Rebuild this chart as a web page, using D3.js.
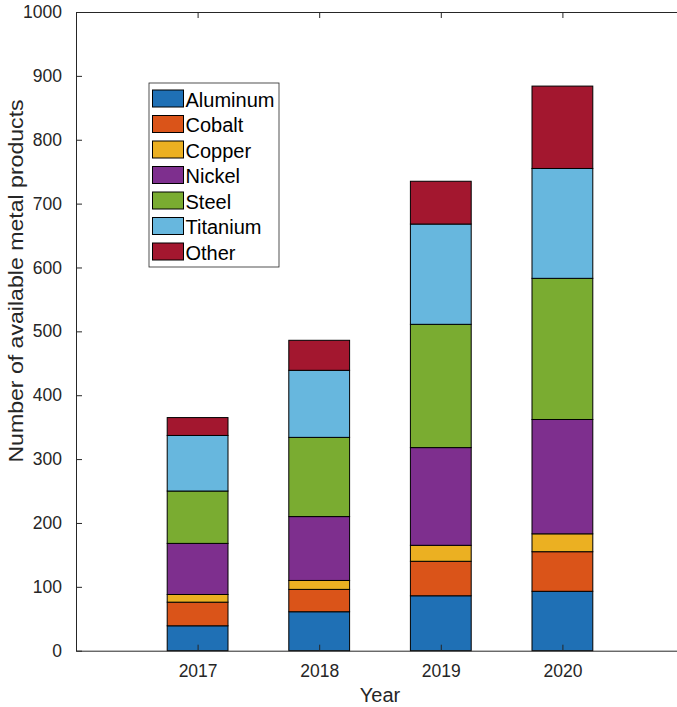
<!DOCTYPE html>
<html>
<head>
<meta charset="utf-8">
<script src="https://cdn.jsdelivr.net/npm/d3@7/dist/d3.min.js"></script>
<style>
  html, body { margin: 0; padding: 0; background: #fff; }
  svg { display: block; font-family: "Liberation Sans", Arial, Helvetica, sans-serif; }
</style>
</head>
<body>
<svg id="chart" width="677" height="707"></svg>
<script>
// Years on the horizontal axis
const years = [2017, 2018, 2019, 2020];

// Metal product counts per year, one array per metal
const aluminum = [39, 61, 86, 93];
const cobalt   = [37, 35, 54, 62];
const copper   = [12, 14, 25, 28];
const nickel   = [80, 100, 153, 179];
const steel    = [82, 124, 193, 221];
const titanium = [87, 105, 157, 172];
const other    = [28, 47, 67, 129];

const seriesNames = ["Aluminum", "Cobalt", "Copper", "Nickel", "Steel", "Titanium", "Other"];
const seriesValues = [aluminum, cobalt, copper, nickel, steel, titanium, other];
const seriesColors = ["#1f70b5", "#da5419", "#ebb022", "#7e2f8e", "#7aac31", "#67b7de", "#a3172f"];

const yTicks = [0, 100, 200, 300, 400, 500, 600, 700, 800, 900, 1000];

const svg = d3.select("#chart");
const axisColor = "#262626";

const x = d3.scaleLinear().domain([2016, 2021]).range([76, 684]);
const y = d3.scaleLinear().domain([0, 1000]).range([650.7, 12]);
const barWidth = 0.5; // in year units

// Stack the series
const rows = years.map((yr, i) => {
  const r = { year: yr };
  seriesNames.forEach((n, k) => { r[n] = seriesValues[k][i]; });
  return r;
});
const stacked = d3.stack().keys(seriesNames)(rows);

const bars = svg.append("g");
stacked.forEach((layer, k) => {
  bars.selectAll(null)
    .data(layer)
    .join("rect")
    .attr("x", d => x(d.data.year - barWidth / 2))
    .attr("width", d => x(d.data.year + barWidth / 2) - x(d.data.year - barWidth / 2))
    .attr("y", d => y(d[1]))
    .attr("height", d => y(d[0]) - y(d[1]))
    .attr("fill", seriesColors[k])
    .attr("stroke", "#000")
    .attr("stroke-width", 1);
});

// Axes with inward ticks (box style)
const styleAxis = g => {
  g.select(".domain").attr("stroke", axisColor).attr("stroke-width", 1);
  g.selectAll(".tick line").attr("stroke", axisColor).attr("stroke-width", 1);
  g.selectAll(".tick text").attr("fill", axisColor).style("font-size", "17.5px")
    .style("font-family", "'Liberation Sans', Arial, Helvetica, sans-serif");
};

svg.append("g")
  .attr("transform", `translate(0,${y(0)})`)
  .call(d3.axisBottom(x).tickValues(years).tickFormat(d3.format("d"))
        .tickSizeInner(-6).tickSizeOuter(0).tickPadding(14))
  .call(styleAxis);

svg.append("g")
  .attr("transform", `translate(0,${y(1000)})`)
  .call(d3.axisTop(x).tickValues(years).tickFormat("")
        .tickSizeInner(-6).tickSizeOuter(0))
  .call(styleAxis);

svg.append("g")
  .attr("transform", `translate(${x(2016)},0)`)
  .call(d3.axisLeft(y).tickValues(yTicks).tickFormat(d3.format("d"))
        .tickSizeInner(-6).tickSizeOuter(0).tickPadding(14))
  .call(styleAxis);

// Axis titles
svg.append("text")
  .attr("x", (x(2016) + x(2021)) / 2)
  .attr("y", 702)
  .attr("text-anchor", "middle")
  .attr("fill", axisColor)
  .style("font-size", "20px")
  .text("Year");

svg.append("text")
  .attr("transform", `translate(23,281) rotate(-90) scale(1.1,1)`)
  .attr("text-anchor", "middle")
  .attr("fill", axisColor)
  .style("font-size", "21px")
  .text("Number of available metal products");

// Legend
const legend = svg.append("g");
legend.append("rect")
  .attr("x", 149).attr("y", 83)
  .attr("width", 130).attr("height", 184)
  .attr("fill", "#fff")
  .attr("stroke", axisColor)
  .attr("stroke-width", 0.8);

seriesNames.forEach((n, k) => {
  const top = 90 + k * 25.5;
  legend.append("rect")
    .attr("x", 152.5).attr("y", top)
    .attr("width", 31).attr("height", 17)
    .attr("fill", seriesColors[k])
    .attr("stroke", "#000")
    .attr("stroke-width", 1);
  legend.append("text")
    .attr("x", 185.5).attr("y", top + 16.5)
    .attr("fill", "#000")
    .style("font-size", "20px")
    .text(n);
});
</script>
</body>
</html>
